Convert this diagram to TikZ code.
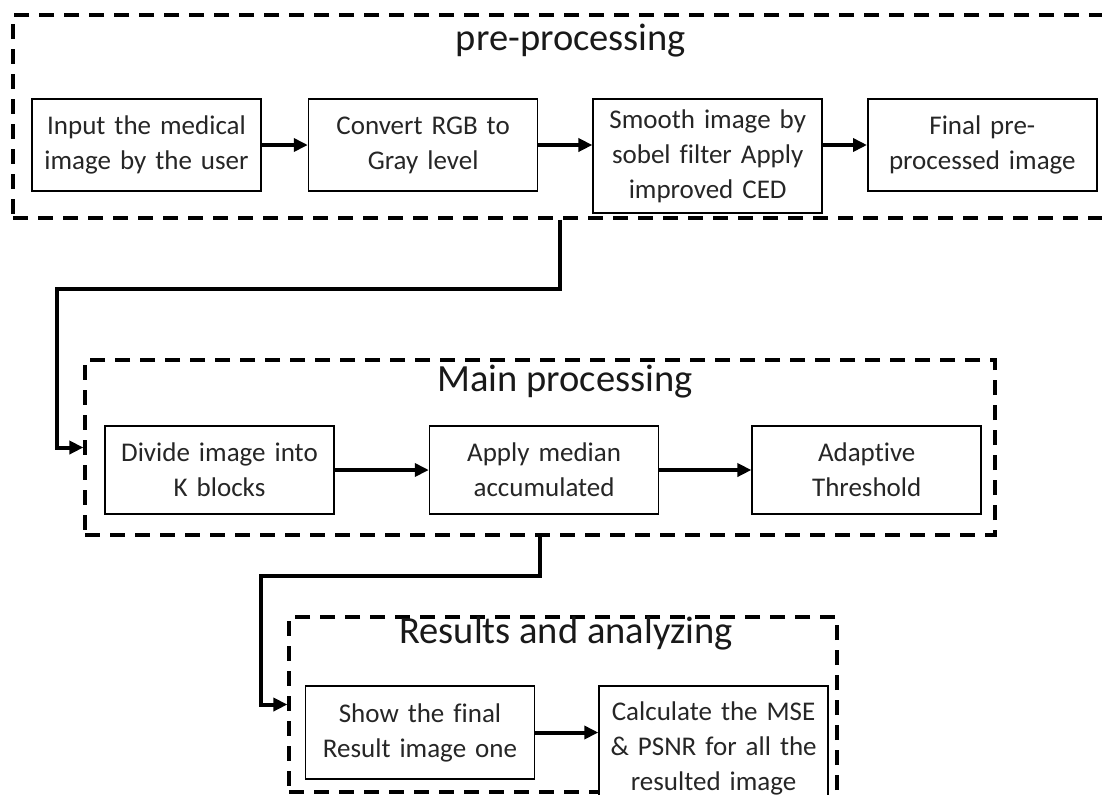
\documentclass[tikz,border=0pt]{standalone}
\usepackage{fontspec}
\setmainfont{Carlito}[Ligatures={NoCommon,NoContextual}, Contextuals=NoAlternate]
\usetikzlibrary{arrows.meta,positioning}
\tikzset{
  stage/.style   = {draw, line width=0.8pt, fill=white, rectangle, align=center,
                   minimum width=114.5pt, text width=104pt, text=black!85,
                   font=\fontsize{13.5}{17.5}\selectfont},
  group/.style   = {draw, line width=1.6pt, dash pattern=on 7.5pt off 5pt},
  heading/.style = {anchor=base, text=black!90, font=\fontsize{19.25}{23}\selectfont},
  flow/.style    = {line width=2pt, -{Triangle[length=7pt,width=6.5pt]}}
}

\begin{document}
\begin{tikzpicture}[x=0.5pt,y=-0.5pt]
\clip (0,0) rectangle (1102,794);
\node[group, minimum width=547pt, minimum height=101.5pt] (pre) at (560,116.5) {};
\node[group, minimum width=455pt, minimum height=87.5pt] (main) at (540,447.5) {};
\node[group, minimum width=274pt, minimum height=87.5pt] (res) at (563,704.5) {};

\node[heading] (preT) at (571,50) {pre-processing};
\node[heading] (mainT) at (565,391) {Main processing};
\node[heading] (resT) at (566,643) {Results and analyzing};

\node[stage, minimum height=46pt] (input) at (146.5,145) {Input the medical\\image by the user};
\node[stage, minimum height=46pt, right=23pt of input] (gray) {Convert RGB to\\Gray level};
\node[stage, minimum height=57pt, right=27pt of gray.north east, anchor=north west] (smooth)
  {Smooth image by\\sobel filter Apply\\improved CED};
\node[stage, minimum height=46pt, right=22pt of smooth.north east, anchor=north west] (final)
  {Final pre-\\processed image};

\node[stage, minimum height=44pt] (divide) at (219.5,470) {Divide image into\\K blocks};
\node[stage, minimum height=44pt, right=47pt of divide] (median) {Apply median\\accumulated};
\node[stage, minimum height=44pt, right=46pt of median] (adapt) {Adaptive\\Threshold};

\node[stage, minimum height=46.5pt] (show) at (420,732.5) {Show the final\\Result image one};
\node[stage, minimum height=62pt, right=31.5pt of show.north east, anchor=north west] (mse)
  {Calculate the MSE\\\& PSNR for all the\\resulted image};

\draw[flow] (input) -- (gray);
\draw[flow] (gray.east) -- (gray.east -| smooth.west);
\draw[flow] (smooth.east |- final.west) -- (final.west);
\draw[flow] (divide) -- (median);
\draw[flow] (median) -- (adapt);
\draw[flow] (show.east) -- (show.east -| mse.west);

\coordinate (turnA) at (57,289);
\coordinate (turnB) at (261,576);
\draw[flow] (pre.south) |- (turnA) |- (main.west);
\draw[flow] (main.south) |- (turnB) |- (res.west);
\end{tikzpicture}
\end{document}
